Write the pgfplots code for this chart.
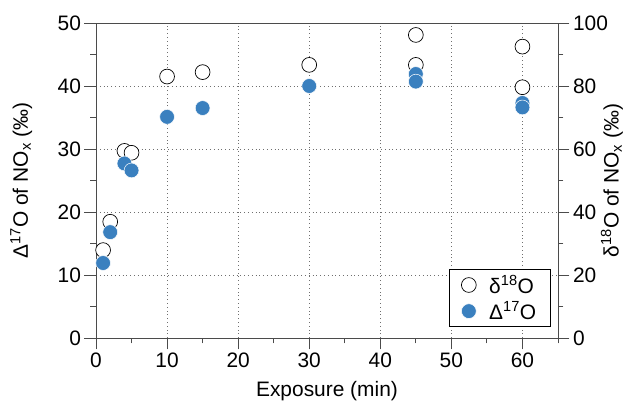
\documentclass[border=0pt]{standalone}
\usepackage{fontspec}
\setmainfont{Liberation Sans}
\usepackage{pgfplots}
\pgfplotsset{compat=1.18}
\definecolor{dotblue}{RGB}{58,128,191}
\definecolor{axgray}{RGB}{75,75,75}
\begin{document}
\begin{tikzpicture}
\pgfplotsset{
  set layers,
  common/.style={
    scale only axis, width=462bp, height=315bp,
    xmin=0, xmax=65,
    font=\fontsize{21}{24}\selectfont,
    /pgf/number format/assume math mode=true,
    tick align=outside,
    major tick length=11.5bp, minor tick length=5.5bp,
    every tick/.style={axgray, line width=0.9pt},
    axis line style={axgray, line width=0.9pt},
  },
  openmk/.style={only marks, mark=*, mark size=7.4bp,
    mark options={fill=white, draw=black, line width=0.7pt}},
  fillmk/.style={only marks, mark=*, mark size=7.4bp,
    mark options={fill=dotblue, draw=white, line width=0.5pt}},
}
% right axis: delta 18O
\begin{axis}[common,
  axis x line=none, axis y line*=right,
  ymin=0, ymax=100, ytick={0,20,...,100}, minor ytick={10,30,...,90},
  ylabel={δ\textsuperscript{18}O of NO\textsubscript{x} (‰)},
  every axis y label/.style={at={(axis description cs:1.117,0.5)}, rotate=90, anchor=center},
]
\addplot[openmk] table {
x y
1 27.9
2 36.9
4 59.4
5 58.8
10 83.0
15 84.4
30 86.7
45 96.2
45 86.7
60 92.5
60 79.6
};
\end{axis}
% left axis: Delta 17O
\begin{axis}[common,
  xtick pos=bottom, ytick pos=left,
  ymin=0, ymax=50, ytick={0,10,...,50}, minor ytick={5,15,...,45},
  xtick={0,10,...,60}, minor xtick={5,15,...,65},
  grid=major, grid style={axgray!80, line width=0.6pt, dash pattern=on 0.8bp off 3bp},
  xlabel={Exposure (min)},
  ylabel={Δ\textsuperscript{17}O of NO\textsubscript{x} (‰)},
  every axis x label/.style={at={(axis description cs:0.5,-0.168)}, anchor=center},
  every axis y label/.style={at={(axis description cs:-0.162,0.5)}, rotate=90, anchor=center},
  legend style={at={(0.985,0.035)}, anchor=south east, draw=black, fill=white,
    line width=0.6pt, font=\fontsize{21}{24}\selectfont,
    inner xsep=12.5bp, inner ysep=4bp, row sep=3bp,
    /tikz/every odd column/.append style={column sep=11bp}},
  legend cell align=left,
]
\addlegendimage{openmk}
\addlegendentry{δ\textsuperscript{18}O}
\addplot[fillmk] table {
x y
1 11.9
2 16.8
4 27.7
5 26.6
10 35.1
15 36.5
30 40.0
45 41.9
45 40.7
60 37.3
60 36.6
};
\addlegendentry{Δ\textsuperscript{17}O}
\coordinate (bl) at (axis description cs:-0.2078,-0.2127);
\coordinate (tr) at (axis description cs:1.1667,1.073);
\end{axis}
\path (bl) rectangle (tr);
\end{tikzpicture}
\end{document}
